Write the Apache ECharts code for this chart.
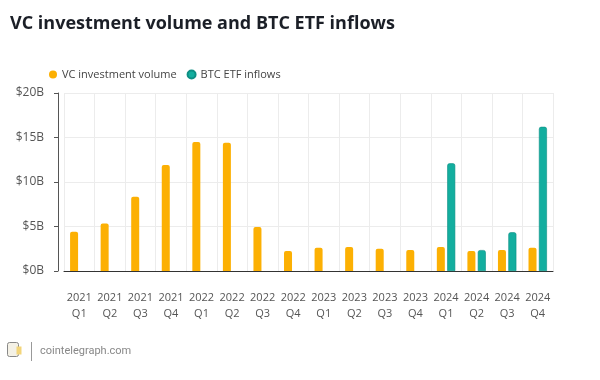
<!DOCTYPE html>
<html>
<head>
<meta charset="utf-8">
<script src="https://cdn.jsdelivr.net/npm/echarts@6/dist/echarts.min.js"></script>
<style>html,body{margin:0;padding:0;background:#fff}#c{width:600px;height:380px}</style>
</head>
<body>
<div id="c"></div>
<script>
const categories = ['2021\nQ1','2021\nQ2','2021\nQ3','2021\nQ4','2022\nQ1','2022\nQ2','2022\nQ3','2022\nQ4','2023\nQ1','2023\nQ2','2023\nQ3','2023\nQ4','2024\nQ1','2024\nQ2','2024\nQ3','2024\nQ4'];
const vcVolume = [4.4, 5.35, 8.35, 11.9, 14.5, 14.4, 4.95, 2.25, 2.6, 2.7, 2.5, 2.35, 2.7, 2.25, 2.35, 2.6];
const etfInflows = [null, null, null, null, null, null, null, null, null, null, null, null, 12.1, 2.35, 4.35, 16.2];
const yTicks = [0, 5, 10, 15, 20];

const chart = echarts.init(document.getElementById('c'));
const font = '"Open Sans", "Noto Sans", sans-serif';
chart.setOption({
  animation: false,
  title: {
    text: 'VC investment volume and BTC ETF inflows',
    left: 5, top: 10,
    textStyle: { fontFamily: font, fontWeight: 'bold', fontSize: 18, color: '#1b1f27' }
  },
  legend: {
    left: 44, top: 64,
    icon: 'circle', itemWidth: 8, itemHeight: 8, itemGap: 10,
    textStyle: { fontFamily: font, fontSize: 11, color: '#444' },
    data: ['VC investment volume', 'BTC ETF inflows']
  },
  grid: { left: 64, right: 47, top: 93, bottom: 109 },
  xAxis: {
    type: 'category',
    data: categories,
    axisLine: { lineStyle: { color: '#333', width: 1 } },
    axisTick: { alignWithLabel: true, length: 3, lineStyle: { color: '#333' } },
    splitLine: { show: true, lineStyle: { color: '#ececec' } },
    axisLabel: { interval: 0, fontFamily: font, fontSize: 11, color: '#555', lineHeight: 16, margin: 19 }
  },
  yAxis: {
    type: 'value', min: 0, max: 20, interval: 5, offset: 6,
    axisLine: { show: true, lineStyle: { color: '#555' } },
    axisTick: { show: true, length: 4, lineStyle: { color: '#555' } },
    splitLine: { lineStyle: { color: '#ececec' } },
    axisLabel: { fontFamily: font, fontSize: 12, color: '#555', margin: 14,
      formatter: v => yTicks.includes(v) ? '$' + v + 'B' : '' }
  },
  series: [
    { name: 'VC investment volume', type: 'bar', data: vcVolume, barWidth: 8, barGap: '30%',
      itemStyle: { color: '#fcb003', borderRadius: [2, 2, 0, 0] } },
    { name: 'BTC ETF inflows', type: 'bar', data: etfInflows, barWidth: 8,
      itemStyle: { color: '#13ae9f', borderColor: '#0e8f84', borderWidth: 0.6, borderRadius: [2, 2, 0, 0] } }
  ],
  graphic: [
    { type: 'group', left: 7, top: 342, children: [
      { type: 'rect', shape: { x: 0, y: 0, width: 11, height: 14, r: 2 }, style: { fill: '#f4f1e6', stroke: '#888', lineWidth: 1 } },
      { type: 'rect', shape: { x: 9, y: 4, width: 5, height: 8 }, style: { fill: '#f3d57a' } }
    ]},
    { type: 'rect', left: 31, top: 342, shape: { width: 1, height: 19 }, style: { fill: '#999' } },
    { type: 'text', left: 40, top: 346, style: { text: 'cointelegraph.com', fontFamily: 'Roboto, sans-serif', fontSize: 11, fill: '#888' } }
  ]
});
</script>
</body>
</html>
